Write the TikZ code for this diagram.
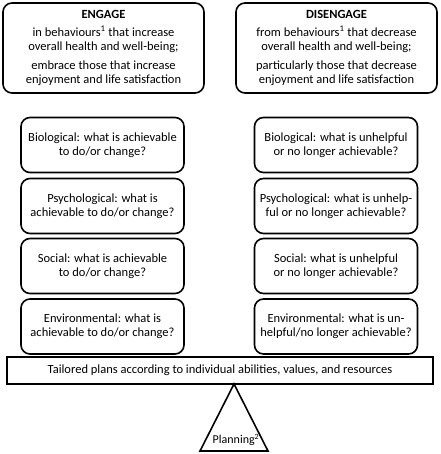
\documentclass[tikz,border=0pt]{standalone}
\usepackage{fontspec}
\setmainfont{Carlito}
\begin{document}
\begin{tikzpicture}[x=1pt,y=-1pt,
  topbox/.style={draw, line width=1.6pt, rounded corners=9pt, minimum width=201pt, minimum height=90pt, align=center, font=\fontsize{12.5}{13.8}\selectfont, inner sep=0pt},
  factor/.style={draw, line width=1.6pt, rounded corners=9pt, minimum width=163pt, minimum height=55pt, align=center, font=\fontsize{12.5}{14}\selectfont, inner sep=0pt},
  plank/.style={draw, line width=1.6pt, minimum width=426pt, minimum height=27pt, font=\fontsize{12.5}{14}\selectfont, inner sep=0pt}]
\useasboundingbox (0,0) rectangle (440,454);
\node[topbox] (engage) at (103.5,48) {\textbf{ENGAGE}\\[4pt] in behaviours\textsuperscript{1} that increase\\ overall health and well-being;\\[6pt] embrace those that increase\\ enjoyment and life satisfaction};
\node[topbox] (disengage) at (336.5,48) {\textbf{DISENGAGE}\\[4pt] from behaviours\textsuperscript{1} that decrease\\ overall health and well-being;\\[6pt] particularly those that decrease\\ enjoyment and life satisfaction};
\node[factor] (lbio) at (102.5,145) {Biological: what is achievable\\ to do/or change?};
\node[factor] (lpsy) at (102.5,206) {Psychological: what is\\ achievable to do/or change?};
\node[factor] (lsoc) at (102.5,266) {Social: what is achievable\\ to do/or change?};
\node[factor] (lenv) at (102.5,326.5) {Environmental: what is\\ achievable to do/or change?};
\node[factor] (rbio) at (336,145) {Biological: what is unhelpful\\ or no longer achievable?};
\node[factor] (rpsy) at (336,206) {Psychological: what is unhelp-\\ful or no longer achievable?};
\node[factor] (rsoc) at (336,266) {Social: what is unhelpful\\ or no longer achievable?};
\node[factor] (renv) at (336,326.5) {Environmental: what is un-\\helpful/no longer achievable?};
\node[plank] (plan) at (220,370.5) {Tailored plans according to individual abilities, values, and resources};
\coordinate (apex) at (234,384);
\coordinate (bl) at (200,451);
\coordinate (br) at (268,451);
\draw[line width=1.6pt, line join=miter] (apex) -- (bl) -- (br) -- cycle;
\node[font=\fontsize{12}{13}\selectfont, inner sep=0pt] (planning) at (236,440) {Planning\textsuperscript{2}};
\end{tikzpicture}
\end{document}
